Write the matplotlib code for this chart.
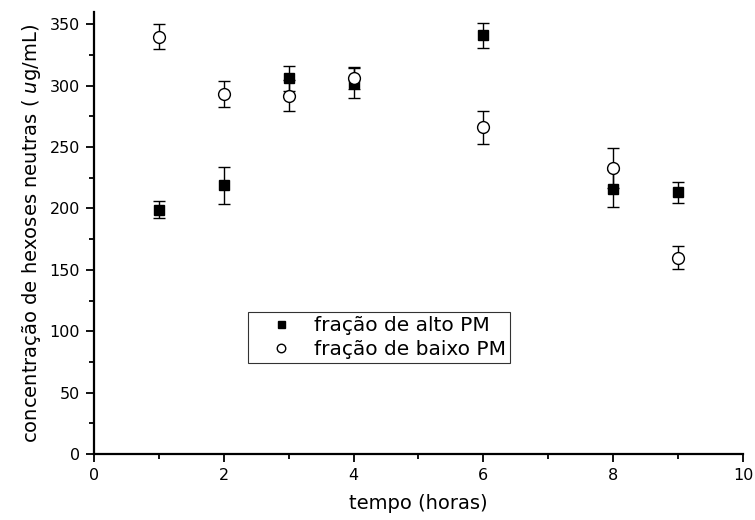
import matplotlib
matplotlib.use("Agg")
import matplotlib.pyplot as plt

plt.rcParams['font.family'] = ['DejaVu Sans']
plt.rcParams['mathtext.fontset'] = 'dejavusans'

tempo = [1, 2, 3, 4, 6, 8, 9]
alto = [199, 219, 306, 302, 341, 216, 213]
alto_err = [7, 15, 10, 12, 10, 15, 8.5]
baixo = [340, 293, 292, 306, 266, 233, 160]
baixo_err = [10, 10.5, 13, 9, 13.5, 16, 9.5]

fig = plt.figure(figsize=(7.55, 5.2), dpi=100)
ax = fig.add_axes([0.1245, 0.1269, 0.8596, 0.85])

ax.errorbar(tempo, alto, yerr=alto_err, fmt='s', color='black', mfc='black',
            mec='black', ms=7, capsize=4, elinewidth=1, capthick=1,
            label='fração de alto PM', zorder=3)
ax.errorbar(tempo, baixo, yerr=baixo_err, fmt='o', color='black', mfc='white',
            mec='black', ms=8.5, mew=1, capsize=4, elinewidth=1, capthick=1,
            label='fração de baixo PM', zorder=3)

ax.set_xlim(0, 10)
ax.set_ylim(0, 360)
ax.set_xticks([0, 2, 4, 6, 8, 10])
ax.set_xticks([1, 3, 5, 7, 9], minor=True)
ax.set_yticks([0, 50, 100, 150, 200, 250, 300, 350])
ax.set_yticks([25, 75, 125, 175, 225, 275, 325], minor=True)
ax.spines['top'].set_visible(False)
ax.spines['right'].set_visible(False)
for s in ['left', 'bottom']:
    ax.spines[s].set_linewidth(1.6)
ax.tick_params(which='major', direction='out', length=6, width=1.3, labelsize=11.5, pad=4)
ax.tick_params(which='minor', direction='out', length=3.5, width=1.3)

ax.set_xlabel('tempo (horas)', fontsize=14, labelpad=8)
ax.set_ylabel('concentração de hexoses neutras ( $\\it{u}$g/mL)', fontsize=14, labelpad=5)

handles, labels = ax.get_legend_handles_labels()
handles = [h[0] for h in handles]
leg = ax.legend(handles, labels, loc='upper left', bbox_to_anchor=(0.237, 0.321),
                fontsize=14.5, frameon=True, fancybox=False, edgecolor='black',
                handletextpad=0.2, borderpad=0.2, borderaxespad=0, labelspacing=0.25,
                handlelength=2.9, markerscale=0.72)
leg.get_frame().set_linewidth(0.8)

fig.savefig('out.png', dpi=100)
